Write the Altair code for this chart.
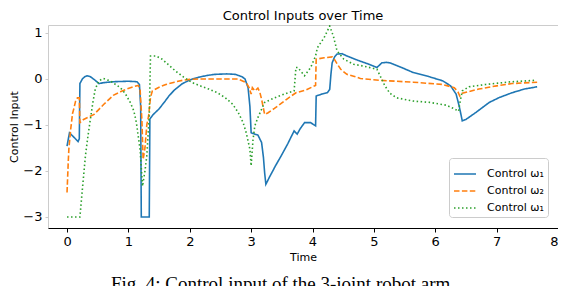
import altair as alt
import pandas as pd

# ---- data ----
series = ["c1", "c2", "c3"]
series_labels = ["Control ω₁", "Control ω₂", "Control ω₁"]
colors = ["#1f77b4", "#ff7f0e", "#2ca02c"]
dashes = [[1, 0], [5.5, 2.4], [1.5, 2.5]]

x_ticks = [0, 1, 2, 3, 4, 5, 6, 7, 8]
y_ticks = [-3, -2, -1, 0, 1]

t1 = [0.00, 0.04, 0.10, 0.18, 0.20, 0.21, 0.25, 0.29, 0.33, 0.38, 0.45, 0.52, 0.60, 0.76, 1.00, 1.14,
      1.18, 1.20, 1.21, 1.34, 1.35, 1.40, 1.50, 1.60, 1.66, 1.75, 1.87, 2.00, 2.15, 2.30, 2.41, 2.60,
      2.74, 2.85, 2.90, 2.95, 2.98, 3.00, 3.06, 3.11, 3.17, 3.20, 3.22, 3.24, 3.30, 3.40, 3.49, 3.60,
      3.70, 3.75, 3.80, 3.87, 3.97, 4.05, 4.06, 4.15, 4.24, 4.28, 4.30, 4.32, 4.36, 4.40, 4.48, 4.56,
      4.73, 4.90, 5.05, 5.13, 5.20, 5.26, 5.45, 5.64, 5.90, 6.12, 6.25, 6.34, 6.39, 6.44, 6.50, 6.66,
      6.88, 7.05, 7.25, 7.45, 7.66]
v1 = [-1.46, -1.17, -1.25, -1.36, -1.30, -0.10, 0.00, 0.05, 0.07, 0.05, -0.02, -0.10, -0.08, -0.06, -0.05, -0.06,
      -0.12, -0.60, -3.00, -3.00, -0.87, -0.78, -0.65, -0.48, -0.37, -0.24, -0.11, -0.02, 0.04, 0.08, 0.10, 0.11,
      0.10, 0.05, 0.00, -0.19, -0.60, -1.17, -1.20, -1.22, -1.38, -1.70, -2.04, -2.29, -2.13, -1.88, -1.67, -1.40,
      -1.13, -1.20, -1.08, -0.95, -0.95, -1.02, -0.37, -0.33, -0.30, -0.23, 0.10, 0.35, 0.48, 0.54, 0.55, 0.50,
      0.41, 0.33, 0.25, 0.35, 0.36, 0.35, 0.25, 0.14, 0.05, -0.04, -0.15, -0.33, -0.59, -0.91, -0.88, -0.73,
      -0.51, -0.40, -0.30, -0.22, -0.17]

t2 = [0.00, 0.02, 0.03, 0.06, 0.09, 0.11, 0.14, 0.17, 0.20, 0.21, 0.27, 0.35, 0.44, 0.52, 0.60, 0.68,
      0.76, 0.87, 0.97, 1.08, 1.16, 1.19, 1.22, 1.24, 1.27, 1.30, 1.33, 1.36, 1.39, 1.50, 1.61, 1.75,
      1.88, 2.00, 2.15, 2.50, 2.79, 2.92, 2.97, 3.00, 3.02, 3.06, 3.11, 3.14, 3.17, 3.22, 3.27, 3.38,
      3.49, 3.60, 3.73, 3.89, 4.05, 4.06, 4.19, 4.32, 4.36, 4.40, 4.46, 4.56, 4.67, 4.78, 5.10, 5.64,
      6.12, 6.31, 6.37, 6.40, 6.44, 6.71, 7.00, 7.25, 7.66]
v2 = [-2.47, -1.80, -1.52, -1.09, -0.75, -0.65, -0.48, -0.41, -0.41, -0.95, -0.88, -0.83, -0.77, -0.66, -0.55, -0.45,
      -0.35, -0.28, -0.22, -0.17, -0.14, -0.22, -0.90, -1.75, -1.50, -1.00, -0.80, -0.40, -0.26, -0.18, -0.12, -0.07,
      -0.03, -0.01, 0.00, 0.00, 0.00, -0.08, -0.20, -0.33, -0.19, -0.26, -0.20, -0.28, -0.44, -0.77, -0.74, -0.64,
      -0.53, -0.42, -0.30, -0.24, -0.14, 0.43, 0.46, 0.48, 0.42, 0.33, 0.21, 0.10, 0.06, 0.01, -0.03, -0.07,
      -0.12, -0.19, -0.28, -0.37, -0.31, -0.22, -0.15, -0.10, -0.07]

t3 = [0.00, 0.21, 0.25, 0.30, 0.34, 0.38, 0.42, 0.46, 0.52, 0.59, 0.70, 0.87, 0.95, 1.03, 1.09, 1.13,
      1.19, 1.23, 1.27, 1.30, 1.34, 1.36, 1.45, 1.55, 1.66, 1.77, 1.90, 2.04, 2.17, 2.31, 2.45, 2.58,
      2.70, 2.79, 2.87, 2.92, 2.98, 3.00, 3.03, 3.06, 3.11, 3.22, 3.38, 3.60, 3.70, 3.73, 3.76, 3.87,
      3.97, 4.05, 4.08, 4.19, 4.28, 4.34, 4.40, 4.51, 4.67, 4.83, 5.05, 5.13, 5.18, 5.26, 5.37, 5.64,
      5.91, 6.18, 6.31, 6.38, 6.40, 6.44, 6.55, 6.82, 7.25, 7.63]
v3 = [-3.00, -3.00, -2.40, -1.67, -1.25, -0.88, -0.52, -0.22, -0.04, 0.01, -0.04, -0.19, -0.32, -0.51, -0.70, -0.95,
      -1.53, -2.33, -2.00, -1.67, -0.80, 0.50, 0.50, 0.43, 0.30, 0.17, 0.04, -0.08, -0.15, -0.22, -0.30, -0.41,
      -0.55, -0.73, -0.95, -1.17, -1.53, -1.89, -1.33, -1.02, -0.84, -0.51, -0.41, -0.30, -0.26, 0.25, 0.25, 0.07,
      0.25, 0.50, 0.68, 0.90, 1.15, 0.93, 0.61, 0.43, 0.32, 0.28, 0.21, -0.01, -0.15, -0.31, -0.41, -0.48,
      -0.51, -0.57, -0.65, -0.70, -0.53, -0.26, -0.17, -0.12, -0.06, -0.03]

title_text = "Control Inputs over Time"
caption_text = "Fig. 4: Control input of the 3-joint robot arm."

# ---- table ----
rows = []
for name, ts, vs in zip(series, [t1, t2, t3], [v1, v2, v3]):
    for i, (t, v) in enumerate(zip(ts, vs)):
        rows.append({"series": name, "t": t, "v": v, "i": i})
df = pd.DataFrame(rows)

label_expr = " : ".join(
    f"datum.value == '{s}' ? '{l}'" for s, l in zip(series[:-1], series_labels[:-1])
) + f" : '{series_labels[-1]}'"

W, H = 510, 203

legend = alt.Legend(
    title=None,
    orient="none",
    legendX=401,
    legendY=133,
    labelExpr=label_expr,
    labelFontSize=11,
    labelFont="DejaVu Sans",
    labelColor="black",
    symbolType="stroke",
    symbolSize=484,
    symbolStrokeWidth=1.6,
    labelOffset=10,
    rowPadding=-3,
    padding=4,
    strokeColor="#cccccc",
    fillColor="white",
    cornerRadius=3,
)

lines = alt.Chart(df).mark_line(strokeWidth=1.6, clip=True).encode(
    x=alt.X("t:Q", scale=alt.Scale(domain=[-0.31, 8.0], nice=False, zero=False),
            axis=alt.Axis(values=x_ticks, title="Time", grid=False, domainColor="black",
                          tickColor="black", tickSize=4, labelPadding=3, titlePadding=3,
                          labelFontSize=13, titleFontSize=11, format="d")),
    y=alt.Y("v:Q", scale=alt.Scale(domain=[-3.24, 1.173], nice=False, zero=False),
            axis=alt.Axis(values=y_ticks, title="Control Input", grid=False, domain=False,
                          tickColor="#cccccc", tickSize=3, labelPadding=3, titleX=-29,
                          labelFontSize=13, titleFontSize=11, format="d")),
    color=alt.Color("series:N", scale=alt.Scale(domain=series, range=colors), legend=legend),
    strokeDash=alt.StrokeDash("series:N", scale=alt.Scale(domain=series, range=dashes), legend=legend),
    order=alt.Order("i:Q"),
)

caption = alt.Chart(pd.DataFrame({"c": [caption_text]})).mark_text(
    font="Liberation Serif", fontSize=19, baseline="top", align="center", color="black"
).encode(text="c:N", x=alt.value(235), y=alt.value(250))

chart = alt.layer(lines, caption).properties(
    width=W,
    height=H,
    title=alt.TitleParams(title_text, fontSize=13, fontWeight="normal", font="DejaVu Sans",
                          color="black", offset=2, anchor="middle"),
    padding={"left": 40, "top": 17, "right": 0, "bottom": 58},
    autosize=alt.AutoSizeParams(type="none"),
).configure_view(stroke="#cccccc").configure_axis(
    labelFont="DejaVu Sans", titleFont="DejaVu Sans", labelColor="black", titleColor="black",
    titleFontWeight="normal"
)

chart.save("out.html", embed_options={"renderer": "svg", "actions": False})
